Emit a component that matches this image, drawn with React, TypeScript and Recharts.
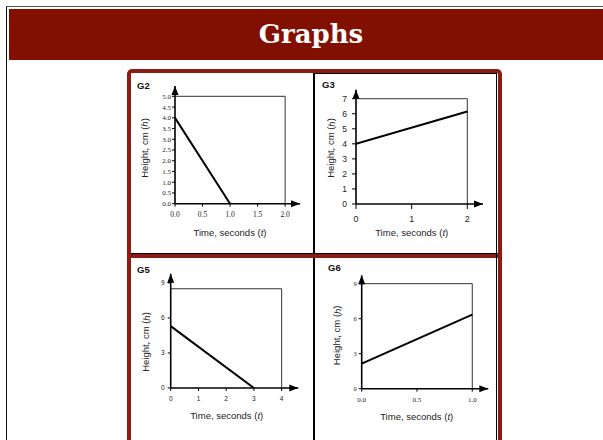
import React from 'react';
import { LineChart, Line, XAxis, YAxis, ReferenceLine, ReferenceDot, Label } from 'recharts';

// ---- data ----
const g2Time = [0, 1];
const g2Height = [4, 0];
const g2XTicks = [0, 0.5, 1, 1.5, 2];
const g2YTicks = [0, 0.5, 1, 1.5, 2, 2.5, 3, 3.5, 4, 4.5, 5];

const g3Time = [0, 2];
const g3Height = [4, 6.15];
const g3XTicks = [0, 1, 2];
const g3YTicks = [0, 1, 2, 3, 4, 5, 6, 7];

const g5Time = [0, 3];
const g5Height = [5.3, 0];
const g5XTicks = [0, 1, 2, 3, 4];
const g5YTicks = [0, 3, 6, 9];

const g6Time = [0, 1];
const g6Height = [2.15, 6.35];
const g6XTicks = [0, 0.5, 1];
const g6YTicks = [0, 3, 6, 9];

const toRows = (t: number[], h: number[]) => t.map((v, i) => ({ t: v, h: h[i] }));

const RED = '#8a1c14';
const SANS = '"Liberation Sans", Arial, Helvetica, sans-serif';
const SERIF = '"Liberation Serif", "Times New Roman", serif';

type Cfg = {
  name: string;
  left: number; top: number; width: number; height: number;
  margin: { top: number; right: number; bottom: number; left: number };
  yWidth: number; xHeight: number;
  xDomain: [number, number]; yDomain: [number, number];
  boxX: number; boxY: number;
  xTicks: number[]; yTicks: number[];
  xFmt: (v: number) => string; yFmt: (v: number) => string;
  xTickFont: number; yTickFont: number; tickFamily: string;
  xTickSize: number; yTickSize: number; xTickMargin: number; yTickMargin: number;
  xTitle: [number, number]; yTitle: [number, number];
  label: [number, number];
  rows: { t: number; h: number }[];
};

const fmt1 = (v: number) => v.toFixed(1);
const fmt0 = (v: number) => String(v);

const charts: Cfg[] = [
  {
    name: 'G2', left: 131, top: 74, width: 182, height: 180,
    margin: { top: 12, right: 13, bottom: 10.3, left: 14 }, yWidth: 30, xHeight: 40,
    xDomain: [0, 2.27], yDomain: [0, 5.48], boxX: 2, boxY: 5,
    xTicks: g2XTicks, yTicks: g2YTicks, xFmt: fmt1, yFmt: fmt1,
    xTickFont: 7.5, yTickFont: 7, tickFamily: SERIF,
    xTickSize: 3, yTickSize: 3, xTickMargin: 4.5, yTickMargin: 1,
    xTitle: [55, 28.3], yTitle: [-31, -55.7], label: [6, 6],
    rows: toRows(g2Time, g2Height),
  },
  {
    name: 'G3', left: 315, top: 74, width: 181, height: 180,
    margin: { top: 15.7, right: 13, bottom: 10, left: 11 }, yWidth: 30, xHeight: 40,
    xDomain: [0, 2.282], yDomain: [0, 7.6], boxX: 2, boxY: 7,
    xTicks: g3XTicks, yTicks: g3YTicks, xFmt: fmt0, yFmt: fmt0,
    xTickFont: 9, yTickFont: 8.5, tickFamily: SANS,
    xTickSize: 5, yTickSize: 4, xTickMargin: 6.5, yTickMargin: 5,
    xTitle: [55.7, 28], yTitle: [-25.3, -56], label: [7, 5],
    rows: toRows(g3Time, g3Height),
  },
  {
    name: 'G5', left: 131, top: 258, width: 182, height: 182,
    margin: { top: 15.7, right: 14.7, bottom: 12, left: 9.7 }, yWidth: 30, xHeight: 40,
    xDomain: [0, 4.6], yDomain: [0, 9.79], boxX: 4, boxY: 8.5,
    xTicks: g5XTicks, yTicks: g5YTicks, xFmt: fmt0, yFmt: fmt0,
    xTickFont: 6.5, yTickFont: 6.5, tickFamily: SANS,
    xTickSize: 3, yTickSize: 3, xTickMargin: 5.5, yTickMargin: 3,
    xTitle: [56, 27.3], yTitle: [-25, -46], label: [6, 6],
    rows: toRows(g5Time, g5Height),
  },
  {
    name: 'G6', left: 315, top: 258, width: 181, height: 182,
    margin: { top: 17.3, right: 7.7, bottom: 11.3, left: 16.7 }, yWidth: 30, xHeight: 40,
    xDomain: [0, 1.145], yDomain: [0, 9.72], boxX: 1, boxY: 9,
    xTicks: g6XTicks, yTicks: g6YTicks, xFmt: fmt1, yFmt: fmt0,
    xTickFont: 7, yTickFont: 6.5, tickFamily: SERIF,
    xTickSize: 3, yTickSize: 3, xTickMargin: 5.5, yTickMargin: 2,
    xTitle: [55, 27.3], yTitle: [-25, -53.4], label: [13, 4],
    rows: toRows(g6Time, g6Height),
  },
];

const ArrowRight = (p: any) => (
  <path d={`M${p.cx},${p.cy} L${p.cx - 9},${p.cy - 3.5} L${p.cx - 9},${p.cy + 3.5} Z`} fill="#000" />
);
const ArrowUp = (p: any) => (
  <path d={`M${p.cx},${p.cy} L${p.cx - 3.5},${p.cy + 9} L${p.cx + 3.5},${p.cy + 9} Z`} fill="#000" />
);

function Graph({ c }: { c: Cfg }) {
  const plotLeft = c.margin.left + c.yWidth;
  const plotBottom = c.height - c.margin.bottom - c.xHeight;
  return (
    <div style={{ position: 'absolute', left: c.left, top: c.top, width: c.width, height: c.height }}>
      <LineChart width={c.width} height={c.height} data={c.rows} margin={c.margin}>
        <XAxis
          dataKey="t" type="number" domain={c.xDomain} ticks={c.xTicks} tickFormatter={c.xFmt}
          height={c.xHeight} interval={0} allowDataOverflow
          axisLine={{ stroke: '#000', strokeWidth: 1.6 }} tickLine={{ stroke: '#000' }}
          tickSize={c.xTickSize} tickMargin={c.xTickMargin}
          tick={{ fontSize: c.xTickFont, fontFamily: c.tickFamily, fill: '#222' }}
        >
          <Label
            content={() => (
              <text x={plotLeft + c.xTitle[0]} y={plotBottom + c.xTitle[1]} textAnchor="middle"
                dominantBaseline="central" fontFamily={SANS} fontSize={9.5} fill="#222">
                Time, seconds (<tspan fontStyle="italic">t</tspan>)
              </text>
            )}
          />
        </XAxis>
        <YAxis
          type="number" domain={c.yDomain} ticks={c.yTicks} tickFormatter={c.yFmt}
          width={c.yWidth} interval={0} allowDataOverflow
          axisLine={{ stroke: '#000', strokeWidth: 1.6 }} tickLine={{ stroke: '#000' }}
          tickSize={c.yTickSize} tickMargin={c.yTickMargin}
          tick={{ fontSize: c.yTickFont, fontFamily: c.tickFamily, fill: '#222' }}
        >
          <Label
            content={() => {
              const x = plotLeft + c.yTitle[0];
              const y = plotBottom + c.yTitle[1];
              return (
                <text x={x} y={y} textAnchor="middle" dominantBaseline="central"
                  transform={`rotate(-90 ${x} ${y})`} fontFamily={SANS} fontSize={9.5} fill="#222">
                  Height, cm (<tspan fontStyle="italic">h</tspan>)
                </text>
              );
            }}
          />
        </YAxis>
        <ReferenceLine segment={[{ x: 0, y: c.boxY }, { x: c.boxX, y: c.boxY }]} stroke="#333" strokeWidth={1} />
        <ReferenceLine segment={[{ x: c.boxX, y: 0 }, { x: c.boxX, y: c.boxY }]} stroke="#333" strokeWidth={1} />
        <Line type="linear" dataKey="h" stroke="#000" strokeWidth={2} dot={false} isAnimationActive={false} />
        <ReferenceDot x={c.xDomain[1]} y={0} r={0} ifOverflow="visible" shape={ArrowRight} />
        <ReferenceDot x={0} y={c.yDomain[1]} r={0} ifOverflow="visible" shape={ArrowUp} />
      </LineChart>
      <div style={{
        position: 'absolute', left: c.label[0], top: c.label[1], fontFamily: SANS,
        fontWeight: 'bold', fontSize: 9.5, lineHeight: '12px', color: '#111',
      }}>{c.name}</div>
    </div>
  );
}

export default function App() {
  return (
    <div style={{ position: 'absolute', left: 0, top: 0, width: 603, height: 440, overflow: 'hidden', background: '#fff' }}>
      <div style={{ position: 'absolute', left: 6, top: 6, width: 600, height: 440, borderTop: '1.5px solid #555', borderLeft: '1.5px solid #111' }} />
      <div style={{
        position: 'absolute', left: 9, top: 9, width: 594, height: 51, background: '#811000',
        color: '#fff', fontFamily: '"DejaVu Serif", serif', fontWeight: 'bold', fontSize: 26,
        lineHeight: '51px', textAlign: 'center', paddingLeft: 10, boxSizing: 'border-box',
      }}>Graphs</div>
      <div style={{
        position: 'absolute', left: 127, top: 69, width: 375, height: 380,
        border: `4px solid ${RED}`, borderRadius: 5, boxSizing: 'border-box',
      }} />
      {charts.map((c) => <Graph key={c.name} c={c} />)}
      <div style={{ position: 'absolute', left: 313, top: 73, width: 2, height: 370, background: '#000' }} />
      <div style={{ position: 'absolute', left: 131, top: 253, width: 367, height: 1, background: '#000' }} />
      <div style={{ position: 'absolute', left: 131, top: 254, width: 367, height: 3.5, background: RED }} />
      <div style={{ position: 'absolute', left: 315, top: 73, width: 182, height: 1, background: '#000' }} />
      <div style={{ position: 'absolute', left: 496, top: 73, width: 1, height: 370, background: '#000' }} />
    </div>
  );
}
